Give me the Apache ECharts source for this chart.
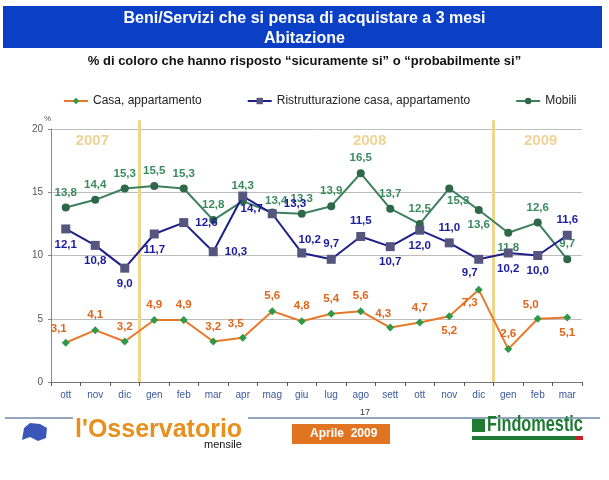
<!DOCTYPE html>
<html>
<head>
<meta charset="utf-8">
<script src="https://cdn.jsdelivr.net/npm/echarts@6/dist/echarts.min.js"></script>
<style>
  html, body { margin: 0; padding: 0; background: #fff; }
  #chart { width: 609px; height: 480px; }
</style>
</head>
<body>
<div id="chart"></div>
<script>
var months = ["ott", "nov", "dic", "gen", "feb", "mar", "apr", "mag", "giu", "lug", "ago", "sett", "ott", "nov", "dic", "gen", "feb", "mar"];
var casa = [3.1, 4.1, 3.2, 4.9, 4.9, 3.2, 3.5, 5.6, 4.8, 5.4, 5.6, 4.3, 4.7, 5.2, 7.3, 2.6, 5.0, 5.1];
var ristrutturazione = [12.1, 10.8, 9.0, 11.7, 12.6, 10.3, 14.7, 13.3, 10.2, 9.7, 11.5, 10.7, 12.0, 11.0, 9.7, 10.2, 10.0, 11.6];
var mobili = [13.8, 14.4, 15.3, 15.5, 15.3, 12.8, 14.3, 13.4, 13.3, 13.9, 16.5, 13.7, 12.5, 15.3, 13.6, 11.8, 12.6, 9.7];
var yTicks = [0, 5, 10, 15, 20];
// year separators, on a 0..18 value scale (boundaries between months)
var yearBreaks = [3, 15];
var years = ["2007", "2008", "2009"];
var yearAt = [1.4, 10.8, 16.6];

// where each value label sits (codes below)
var casaPos = ["tl", "t", "t", "t", "t", "t", "tl", "t", "t", "t", "t", "tl", "t", "b", "bl", "t", "tl", "b"];
var ristPos = ["b", "b", "b", "b", "r", "r", "br", "ru", "tr", "t", "t", "b", "b", "t", "bl", "b", "b", "t"];
var mobiliPos = ["t", "t", "t", "t", "t", "t", "t", "ts", "t", "t", "t", "t", "t", "br", "b", "b", "t", "t"];

var posCodes = {
    t: ["top", [0, 0]],
    b: ["bottom", [0, 0]],
    r: ["right", [2, 0]],
    ru: ["right", [2, -10]],
    tl: ["top", [-7, 1]],
    tr: ["top", [8, 2]],
    ts: ["top", [4, 3]],
    bl: ["bottom", [-9, -2]],
    br: ["bottom", [9, -3]]
};

function fmt(v) {
    return v.toFixed(1).replace(".", ",");
}

function labelled(values, pos) {
    return values.map(function(v, i) {
        var c = posCodes[pos[i]];
        return { value: v, label: { position: c[0], offset: c[1] } };
    });
}

function separator(x) {
    return {
        type: "line",
        xAxisIndex: 1,
        data: [[x, 0], [x, 20.7]],
        symbol: "none",
        silent: true,
        clip: false,
        lineStyle: { color: "#efd68e", width: 3 },
        z: 1
    };
}

var chart = echarts.init(document.getElementById("chart"));
var font = "Liberation Sans, Arial, sans-serif";

var option = {
    animation: false,
    textStyle: { fontFamily: font },
    grid: { left: 51, right: 27, top: 129, bottom: 98, containLabel: false },
    legend: {
        top: 90,
        left: 58,
        itemWidth: 24,
        itemHeight: 8,
        itemGap: 45,
        textStyle: { fontSize: 12, color: "#222", fontFamily: font },
        data: ["Casa, appartamento", "Ristrutturazione casa, appartamento", "Mobili"]
    },
    xAxis: [{
        type: "category",
        data: months,
        boundaryGap: true,
        axisLine: { lineStyle: { color: "#777" } },
        axisTick: { show: true, length: 4, lineStyle: { color: "#555" } },
        axisLabel: { color: "#3a5a9c", fontSize: 10, margin: 8 }
    }, {
        type: "value",
        min: 0,
        max: 18,
        show: false
    }],
    yAxis: {
        type: "value",
        min: 0,
        max: 20,
        interval: 5,
        name: "%",
        nameGap: 6,
        nameTextStyle: { fontSize: 8, color: "#555", align: "right" },
        axisLine: { show: true, lineStyle: { color: "#888" } },
        axisTick: { show: true, length: 3, lineStyle: { color: "#888" } },
        axisLabel: { color: "#555", fontSize: 10, margin: 8,
            formatter: function(v) { return yTicks.indexOf(v) >= 0 ? v : ""; } },
        splitLine: { lineStyle: { color: "#bdbdbd", width: 1 } }
    },
    series: [separator(yearBreaks[0]), separator(yearBreaks[1]), {
        name: "years",
        type: "scatter",
        xAxisIndex: 1,
        symbolSize: 0,
        silent: true,
        data: years.map(function(y, i) { return [yearAt[i], 19.1, y]; }),
        label: {
            show: true,
            position: "inside",
            formatter: function(p) { return p.data[2]; },
            color: "#ecc77a",
            fontSize: 15,
            fontWeight: "bold"
        },
        z: 1
    }, {
        name: "Casa, appartamento",
        type: "line",
        data: labelled(casa, casaPos),
        symbol: "diamond",
        symbolSize: 8,
        lineStyle: { color: "#e8782a", width: 2 },
        itemStyle: { color: "#2e9a48" },
        label: { show: true, color: "#e0661e", fontSize: 11.5, fontWeight: "bold", formatter: function(p) { return fmt(p.value); } },
        z: 3
    }, {
        name: "Ristrutturazione casa, appartamento",
        type: "line",
        data: labelled(ristrutturazione, ristPos),
        symbol: "rect",
        symbolSize: 9,
        lineStyle: { color: "#1e1e8c", width: 2 },
        itemStyle: { color: "#55557e" },
        label: { show: true, color: "#1c1ca0", fontSize: 11.5, fontWeight: "bold", formatter: function(p) { return fmt(p.value); } },
        z: 4
    }, {
        name: "Mobili",
        type: "line",
        data: labelled(mobili, mobiliPos),
        symbol: "circle",
        symbolSize: 8,
        lineStyle: { color: "#3d8060", width: 2 },
        itemStyle: { color: "#2f6848" },
        label: { show: true, color: "#3a8a5e", fontSize: 11.5, fontWeight: "bold", formatter: function(p) { return fmt(p.value); } },
        z: 3
    }],
    graphic: [
        // header banner
        { type: "rect", left: 3, top: 6, shape: { width: 599, height: 42 }, style: { fill: "#0b3fc6" }, z: 0 },
        { type: "text", left: "center", top: 11, style: { text: "Beni/Servizi che si pensa di acquistare a 3 mesi", fill: "#fff", font: "bold 16px " + font } },
        { type: "text", left: "center", top: 31, style: { text: "Abitazione", fill: "#fff", font: "bold 16px " + font } },
        { type: "text", left: "center", top: 55, style: { text: "% di coloro che hanno risposto \u201csicuramente si\u201d o \u201cprobabilmente si\u201d", fill: "#111", font: "bold 13px " + font } },
        // footer
        { type: "line", shape: { x1: 5, y1: 418, x2: 73, y2: 418 }, style: { stroke: "#6e8aa8", lineWidth: 1.5 } },
        { type: "line", shape: { x1: 248, y1: 418, x2: 600, y2: 418 }, style: { stroke: "#6e8aa8", lineWidth: 1.5 } },
        { type: "text", left: 360, top: 408, style: { text: "17", fill: "#333", font: "9px " + font } },
        { type: "polygon", shape: { points: [[22, 440], [24, 428], [30, 423], [40, 424], [47, 428], [46, 438], [38, 441], [30, 437]] }, style: { fill: "#3a56b8" } },
        { type: "text", left: 75, top: 418, style: { text: "l'Osservatorio", fill: "#e8901e", font: "bold 25px " + font } },
        { type: "text", left: 204, top: 439, style: { text: "mensile", fill: "#111", font: "11px " + font } },
        { type: "rect", left: 292, top: 424, shape: { width: 98, height: 20 }, style: { fill: "#e07420" } },
        { type: "text", left: 310, top: 428, style: { text: "Aprile  2009", fill: "#fff", font: "bold 12px " + font } },
        { type: "rect", left: 472, top: 419, shape: { width: 13, height: 13 }, style: { fill: "#1f7a34" } },
        { type: "text", x: 487, y: 414, scaleX: 0.74, style: { text: "Findomestic", fill: "#1f7a34", font: "bold 22px " + font } },
        { type: "rect", left: 472, top: 436, shape: { width: 104, height: 4 }, style: { fill: "#1f7a34" } },
        { type: "rect", left: 576, top: 436, shape: { width: 7, height: 4 }, style: { fill: "#c8202a" } }
    ]
};
chart.setOption(option);
</script>
</body>
</html>
